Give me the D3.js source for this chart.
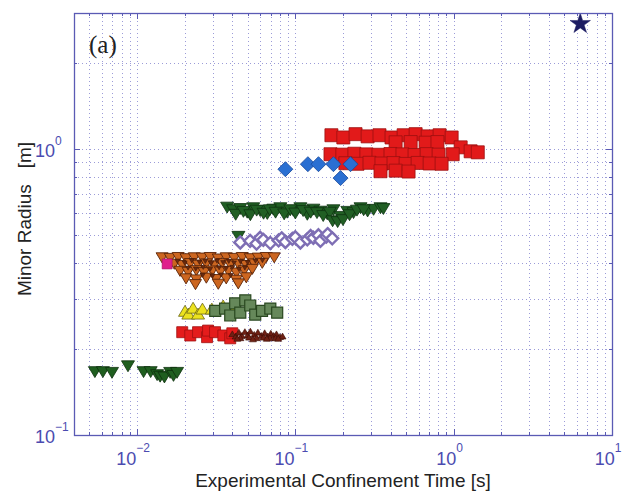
<!DOCTYPE html>
<html><head><meta charset="utf-8">
<script src="https://cdn.jsdelivr.net/npm/d3@7"></script>
<style>body{margin:0;background:#fff}</style>
</head><body><svg id="c" width="625" height="492"></svg>
<script>
// ---------- tick labels ----------
const xTickValues = [0.01, 0.1, 1, 10];
const xTickExps = ["\u22122", "\u22121", "0", "1"];
const yTickValues = [0.1, 1];
const yTickExps = ["\u22121", "0"];

// ---------- data (confinement time [s], minor radius [m]) ----------
const greenLowX = [0.00542, 0.00609, 0.00695, 0.00877, 0.0110, 0.0122, 0.0134, 0.0140, 0.0149, 0.0162, 0.0170, 0.0179];
const greenLowY = [0.166, 0.166, 0.165, 0.174, 0.166, 0.166, 0.162, 0.160, 0.159, 0.165, 0.161, 0.165];

const redSmallX = [0.0193, 0.0217, 0.0243, 0.0277, 0.0281, 0.0311, 0.0351, 0.0388, 0.0400];
const redSmallY = [0.229, 0.223, 0.229, 0.220, 0.232, 0.229, 0.223, 0.218, 0.227];

const brownX = [0.040, 0.042, 0.044, 0.046, 0.048, 0.050, 0.052, 0.055, 0.058, 0.061, 0.064, 0.067, 0.070, 0.073, 0.076, 0.080, 0.083, 0.045, 0.051, 0.057, 0.063, 0.069, 0.075, 0.043, 0.054, 0.066, 0.078];
const brownY = [0.226, 0.222, 0.229, 0.223, 0.230, 0.224, 0.231, 0.225, 0.229, 0.223, 0.228, 0.222, 0.227, 0.223, 0.226, 0.221, 0.222, 0.219, 0.220, 0.219, 0.220, 0.219, 0.219, 0.218, 0.217, 0.218, 0.218];

const yellowX = [0.0201, 0.0211, 0.0226, 0.0243, 0.0259, 0.0297, 0.0350, 0.0400];
const yellowY = [0.272, 0.266, 0.279, 0.266, 0.277, 0.277, 0.284, 0.280];

const oliveX = [0.0312, 0.0360, 0.0388, 0.0417, 0.0449, 0.0483, 0.0519, 0.0558, 0.0616, 0.0695, 0.0768];
const oliveY = [0.272, 0.277, 0.262, 0.289, 0.268, 0.296, 0.284, 0.264, 0.272, 0.277, 0.268];

const orangeX = [0.0144, 0.0162, 0.0182, 0.0204, 0.0230, 0.0258, 0.0290, 0.0326, 0.0366, 0.0411, 0.0462, 0.0519, 0.0583, 0.0655, 0.0736,
                 0.0172, 0.0193, 0.0217, 0.0243, 0.0274, 0.0307, 0.0345, 0.0388, 0.0436, 0.0490, 0.0550, 0.0618,
                 0.0187, 0.0210, 0.0237, 0.0265, 0.0299, 0.0336, 0.0377, 0.0424, 0.0476, 0.0535,
                 0.0204, 0.0237, 0.0274, 0.0316, 0.0366, 0.0424, 0.0490,
                 0.0234, 0.0326, 0.0436];
const orangeY = [0.417, 0.415, 0.418, 0.414, 0.417, 0.416, 0.418, 0.413, 0.417, 0.415, 0.418, 0.414, 0.416, 0.418, 0.417,
                 0.396, 0.392, 0.398, 0.393, 0.397, 0.391, 0.398, 0.394, 0.396, 0.392, 0.397, 0.399,
                 0.374, 0.371, 0.376, 0.370, 0.375, 0.372, 0.374, 0.369, 0.376, 0.380,
                 0.352, 0.349, 0.354, 0.350, 0.352, 0.348, 0.355,
                 0.336, 0.337, 0.338];

// dark brown points overlaid on the orange cluster
const speckX = [0.0180, 0.0200, 0.0222, 0.0248, 0.0270, 0.0295, 0.0320, 0.0350, 0.0380, 0.0410, 0.0450, 0.0500, 0.0560, 0.0620,
                0.0210, 0.0235, 0.0262, 0.0290, 0.0330, 0.0365, 0.0400, 0.0440, 0.0480, 0.0260, 0.0300, 0.0340, 0.0390];
const speckY = [0.405, 0.400, 0.407, 0.402, 0.405, 0.399, 0.406, 0.401, 0.405, 0.400, 0.404, 0.401, 0.406, 0.408,
                0.384, 0.381, 0.386, 0.380, 0.385, 0.382, 0.386, 0.380, 0.384, 0.362, 0.360, 0.363, 0.361];

const magentaX = [0.0155];
const magentaY = [0.397];

const purpleX = [0.0449, 0.0518, 0.0569, 0.0600, 0.0628, 0.0695, 0.0784, 0.0820, 0.0865, 0.0958, 0.1000, 0.1076, 0.119, 0.125, 0.130, 0.140, 0.144, 0.157, 0.160, 0.171];
const purpleY = [0.472, 0.478, 0.468, 0.490, 0.482, 0.470, 0.480, 0.488, 0.474, 0.486, 0.492, 0.472, 0.484, 0.497, 0.490, 0.500, 0.478, 0.495, 0.505, 0.488];

const greenMidX = [0.0371, 0.0405, 0.0449, 0.0497, 0.0542, 0.0600, 0.0665, 0.0726, 0.0804, 0.0889, 0.0971, 0.1076, 0.119, 0.130, 0.144, 0.159, 0.174, 0.193, 0.213, 0.233, 0.258, 0.286, 0.312, 0.345, 0.360,
                   0.042, 0.047, 0.052, 0.057, 0.063, 0.069, 0.075, 0.085, 0.093, 0.100, 0.112, 0.125, 0.137, 0.150, 0.165, 0.172, 0.185, 0.200, 0.220, 0.245, 0.270, 0.0437];
const greenMidY = [0.625, 0.612, 0.618, 0.600, 0.622, 0.608, 0.594, 0.615, 0.622, 0.600, 0.610, 0.622, 0.590, 0.615, 0.605, 0.592, 0.612, 0.580, 0.604, 0.598, 0.622, 0.606, 0.614, 0.622, 0.618,
                   0.590, 0.604, 0.588, 0.610, 0.595, 0.612, 0.600, 0.592, 0.612, 0.596, 0.608, 0.600, 0.598, 0.584, 0.600, 0.560, 0.556, 0.565, 0.588, 0.610, 0.612, 0.494];

const blueX = [0.0865, 0.120, 0.140, 0.174, 0.223, 0.193];
const blueY = [0.852, 0.887, 0.887, 0.887, 0.887, 0.793];

const redLargeX = [0.169, 0.201, 0.240, 0.286, 0.340, 0.405, 0.483, 0.575, 0.685, 0.815, 0.971,
                   0.430, 0.535, 0.665, 0.790,
                   1.107, 1.280, 1.420, 0.986,
                   0.1667, 0.198, 0.236, 0.281, 0.335, 0.399, 0.475, 0.566, 0.675, 0.803,
                   0.207, 0.247, 0.294, 0.350, 0.417, 0.497, 0.592, 0.705, 0.839,
                   0.345, 0.430, 0.519];
const redLargeY = [1.12, 1.10, 1.13, 1.11, 1.12, 1.10, 1.12, 1.13, 1.11, 1.12, 1.10,
                   1.058, 1.06, 1.055, 1.06,
                   1.016, 0.984, 0.976, 0.961,
                   0.961, 0.958, 0.965, 0.960, 0.957, 0.963, 0.960, 0.955, 0.962, 0.958,
                   0.894, 0.890, 0.897, 0.892, 0.895, 0.889, 0.896, 0.892, 0.890,
                   0.838, 0.842, 0.836];

const starX = [6.3];
const starY = [2.75];

// ---------- chart ----------
const svg = d3.select("#c");
const x = d3.scaleLog().domain([0.004, 10]).range([74, 612]);
const y = d3.scaleLog().domain([0.1, 3]).range([435, 13]);
const axisColor = "#5a5ab4";

svg.append("rect").attr("width", 625).attr("height", 492).attr("fill", "#fff");

// minor/major positions
const xGrid = [], yGrid = [];
[0.001, 0.01, 0.1, 1, 10].forEach(d => { for (let k = 1; k <= 9; k++) { const v = k * d; if (v >= 0.004 * 1.0001 && v <= 10 * 0.9999) xGrid.push(v); } });
[0.1, 1].forEach(d => { for (let k = 1; k <= 9; k++) { const v = k * d; if (v > 0.1 * 1.0001 && v <= 3 * 0.9999) yGrid.push(v); } });

const grid = svg.append("g").attr("stroke", "#9c9cd8").attr("stroke-width", 1).attr("stroke-dasharray", "1,3");
grid.selectAll(".gx").data(xGrid).join("line")
  .attr("x1", d => Math.round(x(d)) + 0.5).attr("x2", d => Math.round(x(d)) + 0.5)
  .attr("y1", y.range()[1]).attr("y2", y.range()[0]);
grid.selectAll(".gy").data(yGrid).join("line")
  .attr("y1", d => Math.round(y(d)) + 0.5).attr("y2", d => Math.round(y(d)) + 0.5)
  .attr("x1", x.range()[0]).attr("x2", x.range()[1]);

// marker shapes
const shapes = {
  square: s => `M${-s/2},${-s/2}h${s}v${s}h${-s}Z`,
  diamond: s => `M0,${-s/2}L${s/2},0L0,${s/2}L${-s/2},0Z`,
  triDown: s => `M${-s/2},${-s*0.42}L${s/2},${-s*0.42}L0,${s*0.42}Z`,
  triUp: s => `M${-s/2},${s*0.42}L${s/2},${s*0.42}L0,${-s*0.42}Z`,
  star: s => d3.symbol(d3.symbolStar, s * s * 0.9)()
};

const series = [
  { xs: greenLowX, ys: greenLowY, shape: "triDown", size: 13, fill: "#1f5e1f", stroke: "#0c300c", sw: 0.8 },
  { xs: redSmallX, ys: redSmallY, shape: "square", size: 11, fill: "#e41c1c", stroke: "#a01010", sw: 0.8 },
  { xs: brownX, ys: brownY, shape: "triUp", size: 7, fill: "#6e2014", stroke: "#3a0a04", sw: 0.6 },
  { xs: yellowX, ys: yellowY, shape: "triUp", size: 13, fill: "#ece21e", stroke: "#6a6412", sw: 0.8 },
  { xs: oliveX, ys: oliveY, shape: "square", size: 11, fill: "#66885a", stroke: "#2a4820", sw: 1.2 },
  { xs: orangeX, ys: orangeY, shape: "triDown", size: 12, fill: "#cc6620", stroke: "#5a2408", sw: 0.9 },
  { xs: speckX, ys: speckY, shape: "triDown", size: 5, fill: "#6a2a0e", stroke: "#3a1406", sw: 0.5 },
  { xs: magentaX, ys: magentaY, shape: "square", size: 10, fill: "#e0208c", stroke: "#a01060", sw: 0.6 },
  { xs: greenMidX, ys: greenMidY, shape: "triDown", size: 13, fill: "#215f24", stroke: "#0e3410", sw: 0.8 },
  { xs: purpleX, ys: purpleY, shape: "diamond", size: 12, fill: "#ffffff", stroke: "#7e6eb4", sw: 2.4 },
  { xs: redLargeX, ys: redLargeY, shape: "square", size: 13, fill: "#e21a1a", stroke: "#9c1010", sw: 0.8 },
  { xs: blueX, ys: blueY, shape: "diamond", size: 15, fill: "#2a6fd2", stroke: "#18489a", sw: 0.8 },
  { xs: starX, ys: starY, shape: "star", size: 12, fill: "#1c1c62", stroke: "#1c1c62", sw: 0.5 }
];

series.forEach(s => {
  const pts = s.xs.map((v, i) => [v, s.ys[i]]);
  svg.append("g").selectAll("path").data(pts).join("path")
    .attr("transform", d => `translate(${x(d[0])},${y(d[1])})`)
    .attr("d", shapes[s.shape](s.size))
    .attr("fill", s.fill).attr("stroke", s.stroke).attr("stroke-width", s.sw)
    .attr("stroke-linejoin", "miter");
});

// box
const [x0, x1] = x.range(), [y0, y1] = y.range();
svg.append("rect").attr("x", x0 + 0.5).attr("y", y1 + 0.5).attr("width", x1 - x0).attr("height", y0 - y1)
  .attr("fill", "none").attr("stroke", axisColor).attr("stroke-width", 1.3);

// inner ticks
const ticks = svg.append("g").attr("stroke", axisColor).attr("stroke-width", 1);
const isMajor = v => Math.abs(Math.log10(v) - Math.round(Math.log10(v))) < 1e-6;
xGrid.forEach(v => {
  const L = isMajor(v) ? 6 : 3, px = Math.round(x(v)) + 0.5;
  ticks.append("line").attr("x1", px).attr("x2", px).attr("y1", y0).attr("y2", y0 - L);
  ticks.append("line").attr("x1", px).attr("x2", px).attr("y1", y1).attr("y2", y1 + L);
});
yGrid.forEach(v => {
  const L = isMajor(v) ? 6 : 3, py = Math.round(y(v)) + 0.5;
  ticks.append("line").attr("y1", py).attr("y2", py).attr("x1", x0).attr("x2", x0 + L);
  ticks.append("line").attr("y1", py).attr("y2", py).attr("x1", x1).attr("x2", x1 - L);
});

// tick labels
const font = "'Liberation Sans', Arial, Helvetica, sans-serif";
xTickValues.forEach((v, i) => {
  const t = svg.append("text").attr("x", x(v) - 4).attr("y", 465).attr("text-anchor", "middle")
    .attr("font-family", font).attr("fill", "#4b4bb0").attr("font-size", 18);
  t.append("tspan").text("10");
  t.append("tspan").attr("dy", -13).attr("font-size", 12).text(xTickExps[i]);
});
yTickValues.forEach((v, i) => {
  const t = svg.append("text").attr("x", 35).attr("y", y(v) + 8)
    .attr("font-family", font).attr("fill", "#4b4bb0").attr("font-size", 18);
  t.append("tspan").text("10");
  t.append("tspan").attr("dy", -12).attr("font-size", 12).text(yTickExps[i]);
});

// axis titles
svg.append("text").attr("x", (x0 + x1) / 2).attr("y", 487).attr("text-anchor", "middle")
  .attr("font-family", font).attr("font-size", 19).attr("fill", "#222")
  .text("Experimental Confinement Time [s]");
svg.append("text").attr("transform", "translate(31,219) rotate(-90)").attr("text-anchor", "middle")
  .attr("font-family", font).attr("font-size", 19).attr("fill", "#222")
  .style("white-space", "pre")
  .text("Minor Radius   [m]");

// panel label
svg.append("text").attr("x", 89).attr("y", 53)
  .attr("font-family", "'Liberation Serif', 'Times New Roman', serif").attr("font-size", 25).attr("fill", "#222")
  .text("(a)");
</script>
</body></html>
